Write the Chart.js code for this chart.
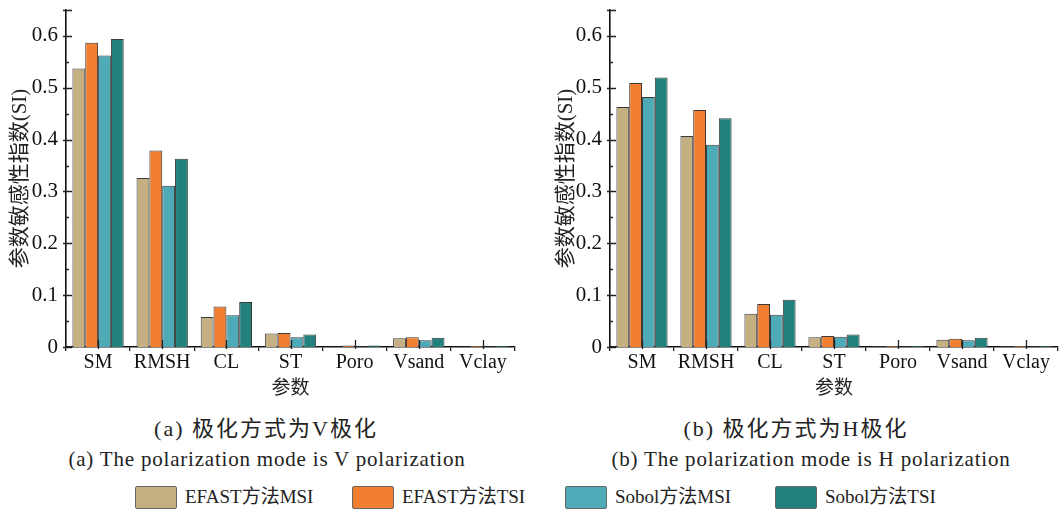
<!DOCTYPE html>
<html>
<head>
<meta charset="utf-8">
<script src="https://cdn.jsdelivr.net/npm/chart.js@4"></script>
<style>
  body { margin: 0; background: #fff; }
  #page { position: relative; width: 1061px; height: 512px; overflow: hidden; font-family: "Liberation Serif", "Noto Sans CJK SC", serif; color: #222; }
  .box { position: absolute; top: 0; height: 400px; }
  .cap { position: absolute; text-align: center; white-space: nowrap; }
  .zh { font-size: 22px; letter-spacing: 2px; }
  .en { font-size: 21px; letter-spacing: 0.8px; }
  #legend { position: absolute; top: 484px; left: 0; width: 1061px; height: 28px; }
  .item { position: absolute; top: 0; font-size: 19px; line-height: 26px; white-space: nowrap; }
  .item span.sw { display: inline-block; width: 42px; height: 23px; vertical-align: middle; margin-right: 8px; border: 1.5px solid #666; border-radius: 2px; box-sizing: border-box; position: relative; top: -1px; }
</style>
</head>
<body>
<div id="page">
  <div class="box" style="left:0;width:530px"><canvas id="chartV"></canvas></div>
  <div class="box" style="left:530px;width:531px"><canvas id="chartH"></canvas></div>
  <div class="cap zh" style="left:66px;width:400px;top:410px">(a) 极化方式为V极化</div>
  <div class="cap en" style="left:17px;width:500px;top:447px">(a) The polarization mode is V polarization</div>
  <div class="cap zh" style="left:596px;width:400px;top:410px">(b) 极化方式为H极化</div>
  <div class="cap en" style="left:561px;width:500px;top:447px">(b) The polarization mode is H polarization</div>
  <div id="legend"></div>
</div>
<script>
// categories and series
const params = ['SM', 'RMSH', 'CL', 'ST', 'Poro', 'Vsand', 'Vclay'];
const seriesNames = ['EFAST方法MSI', 'EFAST方法TSI', 'Sobol方法MSI', 'Sobol方法TSI'];
const seriesColors = ['#c4b083', '#f27f30', '#4faab7', '#22807d'];

// (a) V polarization
const vEfastMSI = [0.537, 0.326, 0.058, 0.026, 0.0005, 0.017, 0.0005];
const vEfastTSI = [0.587, 0.379, 0.078, 0.027, 0.003, 0.019, 0.002];
const vSobolMSI = [0.562, 0.311, 0.061, 0.019, 0.001, 0.013, 0.001];
const vSobolTSI = [0.594, 0.363, 0.087, 0.024, 0.003, 0.018, 0.002];

// (b) H polarization
const hEfastMSI = [0.463, 0.407, 0.064, 0.019, 0.001, 0.014, 0.001];
const hEfastTSI = [0.509, 0.457, 0.083, 0.021, 0.002, 0.016, 0.002];
const hSobolMSI = [0.482, 0.390, 0.062, 0.020, 0.001, 0.013, 0.001];
const hSobolTSI = [0.520, 0.441, 0.091, 0.024, 0.002, 0.018, 0.002];

const yTitle = '参数敏感性指数(SI)';
const xTitle = '参数';

const serif = '"Liberation Serif", "Noto Sans CJK SC", serif';

// ticks drawn like the original figure (inward, majors crossing the axis)
const innerTicks = {
    id: 'innerTicks',
    afterDraw(chart) {
        const ctx = chart.ctx;
        const xs = chart.scales.x, ys = chart.scales.y;
        ctx.save();
        ctx.strokeStyle = '#222';
        ctx.lineWidth = 1.3;
        ctx.beginPath();
        for (let k = 0; k <= 13; k++) {
            const v = k * 0.05;
            const py = Math.round(ys.getPixelForValue(v)) + 0.5;
            const major = k % 2 === 0 || k === 13;
            ctx.moveTo(xs.left - (major ? 3 : 0), py);
            ctx.lineTo(xs.left + (major ? 6 : 3), py);
        }
        for (let i = 0; i < params.length; i++) {
            const px = Math.round(xs.getPixelForValue(i)) + 0.5;
            ctx.moveTo(px, ys.bottom + 2);
            ctx.lineTo(px, ys.bottom - 7);
        }
        ctx.stroke();
        ctx.restore();
    }
};

function makeChart(id, values, leftWidth, rightPad, titlePad) {
    return new Chart(id, {
        type: 'bar',
        data: {
            labels: params,
            datasets: seriesNames.map((name, i) => ({
                label: name,
                data: values[i],
                backgroundColor: seriesColors[i],
                borderColor: '#3a3a3a',
                borderWidth: 1,
                categoryPercentage: 0.8,
                barPercentage: 1.0
            }))
        },
        options: {
            responsive: true,
            maintainAspectRatio: false,
            animation: false,
            layout: { padding: { top: 10, right: rightPad, left: 0, bottom: 0 } },
            plugins: { legend: { display: false }, tooltip: { enabled: false } },
            scales: {
                x: {
                    afterFit: s => { s.height = 53; },
                    grid: { drawOnChartArea: false, offset: true, tickLength: 4, color: '#222', lineWidth: 1.3 },
                    border: { display: true, color: '#111', width: 1.6 },
                    ticks: { font: { family: serif, size: 20 }, color: '#111', padding: 0 },
                    title: { display: true, text: xTitle, font: { family: serif, size: 19 }, color: '#222', padding: { top: -4, bottom: 0 } }
                },
                y: {
                    min: 0,
                    max: 0.65,
                    afterFit: s => { s.width = leftWidth; s.paddingTop = 0; s.paddingBottom = 0; },
                    grid: { display: false, drawTicks: false },
                    border: { display: true, color: '#111', width: 1.6 },
                    ticks: {
                        stepSize: 0.1,
                        padding: 8,
                        font: { family: serif, size: 21 },
                        color: '#111',
                        callback: v => {
                            if (Math.abs(v * 10 - Math.round(v * 10)) > 1e-6) return '';
                            return v === 0 ? '0' : v.toFixed(1);
                        }
                    },
                    title: { display: true, text: yTitle, font: { family: serif, size: 21 }, color: '#222', padding: { top: titlePad, bottom: 0 } }
                }
            }
        },
        plugins: [innerTicks]
    });
}

makeChart('chartV', [vEfastMSI, vEfastTSI, vSobolMSI, vSobolTSI], 66, 15, 8);
makeChart('chartH', [hEfastMSI, hEfastTSI, hSobolMSI, hSobolTSI], 80, 3, 24);

// shared legend
const legendX = [135, 352, 565, 775];
const legend = document.getElementById('legend');
seriesNames.forEach((name, i) => {
    const d = document.createElement('div');
    d.className = 'item';
    d.style.left = legendX[i] + 'px';
    d.innerHTML = '<span class="sw" style="background:' + seriesColors[i] + '"></span>' + name;
    legend.appendChild(d);
});
</script>
</body>
</html>
